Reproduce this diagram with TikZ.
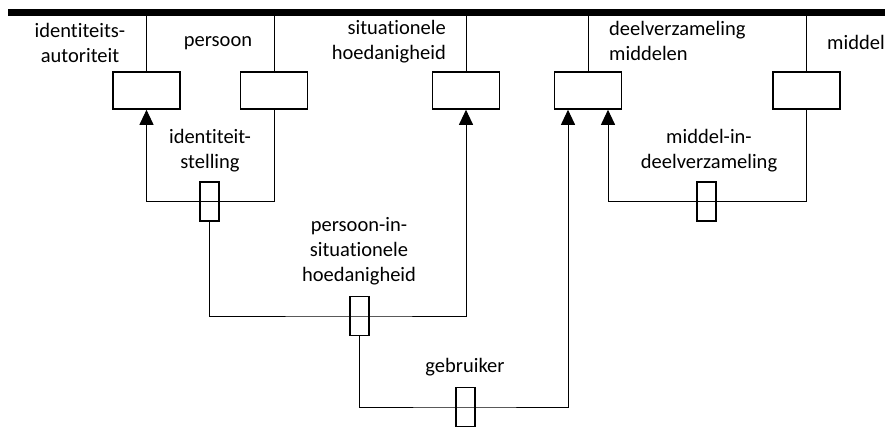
\documentclass[tikz,border=0pt]{standalone}
\usepackage{fontspec}
\setmainfont{Carlito}[RawFeature=-liga]
\usetikzlibrary{arrows.meta}
\tikzset{
  rolebox/.style={draw, line width=1.6pt, minimum width=67pt, minimum height=37pt, inner sep=0pt},
  factbox/.style={draw, line width=1.6pt, minimum width=19pt, minimum height=39pt, inner sep=0pt},
  lbl/.style={inner sep=0pt, font=\fontsize{20.5}{25}\selectfont},
  link/.style={line width=1pt},
  tip/.style={-{Triangle[width=14pt,length=15pt]}}
}
\begin{document}
\begin{tikzpicture}[x=1pt,y=-1pt]
\useasboundingbox (0,0) rectangle (885,426);
% bar
\draw[line width=6.5pt] (8,12.5) -- (885,12.5);
\coordinate (c1) at (146.5,12.5);
\coordinate (c2) at (274,12.5);
\coordinate (c3) at (466,12.5);
\coordinate (c4) at (588,12.5);
\coordinate (c5) at (806.5,12.5);
% types
\node[rolebox] (ia) at (146.5,90.5) {};
\node[rolebox] (ps) at (274,90.5) {};
\node[rolebox] (sh) at (466,90.5) {};
\node[rolebox] (dm) at (588,90.5) {};
\node[rolebox] (md) at (806.5,90.5) {};
% facts
\node[factbox] (is) at (209.5,201.5) {};
\node[factbox] (ph) at (359.5,316) {};
\node[factbox] (gb) at (465.5,407) {};
\node[factbox] (mi) at (706.5,201.5) {};
% labels
\node[lbl, align=center] (lia) at (80,42.5) {identiteits-\\autoriteit};
\node[lbl] (lps) at (218,43) {persoon};
\node[lbl, align=right, anchor=east] (lsh) at (446,41.5) {situationele\\hoedanigheid};
\node[lbl, align=left, anchor=west] (ldm) at (609,40.5) {deelverzameling\\middelen};
\node[lbl, anchor=west] (lmd) at (827,42) {middel};
\node[lbl, align=center] (lis) at (210,150.5) {identiteit-\\stelling};
\node[lbl, align=center] (lmi) at (709,150.5) {middel-in-\\deelverzameling};
\node[lbl, align=center] (lph) at (359,251) {persoon-in-\\situationele\\hoedanigheid};
\node[lbl] (lgb) at (465,367) {gebruiker};
% connectors
\path[link]
    (c1) edge (ia)
    (c2) edge (ps)
    (c3) edge (sh)
    (c4) edge (dm)
    (c5) edge (md);
\draw[link, tip] (ps.south) |- (is.center) -| (ia.south);
\draw[link, tip] (is.south) |- (ph.center) -| (sh.south);
\draw[link, tip] (ph.south) |- (gb.center) -| ([xshift=-20pt]dm.south);
\draw[link, tip] (md.south) |- (mi.center) -| ([xshift=20pt]dm.south);
\end{tikzpicture}
\end{document}
